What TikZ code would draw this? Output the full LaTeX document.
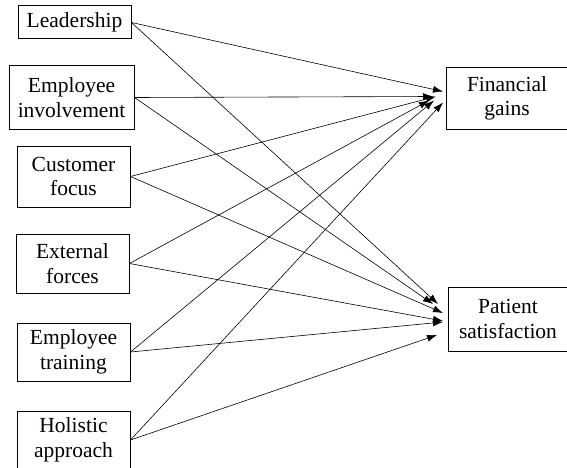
\documentclass[tikz,border=0pt]{standalone}
\usepackage{fontspec}
\setmainfont{Liberation Serif}
\usetikzlibrary{arrows.meta}
\begin{document}
\begin{tikzpicture}[x=1pt,y=-1pt,
  box/.style={draw,line width=1pt,align=center,inner sep=0pt,font=\fontsize{21.5}{24.5}\selectfont},
  link/.style={line width=0.6pt,-{Latex[length=10pt,width=7pt]}}]
\useasboundingbox (0,0) rectangle (567,468);
\node[box,minimum width=113pt,minimum height=33pt] (lead) at (74.5,22.5) {Leadership};
\node[box,minimum width=125pt,minimum height=63pt] (inv) at (71.5,97.5) {Employee\\involvement};
\node[box,minimum width=113pt,minimum height=61pt] (cust) at (73.5,176.5) {Customer\\focus};
\node[box,minimum width=113pt,minimum height=59pt] (ext) at (72.5,263.5) {External\\forces};
\node[box,minimum width=113pt,minimum height=58pt] (train) at (73.5,352) {Employee\\training};
\node[box,minimum width=113pt,minimum height=58pt] (hol) at (73.5,440) {Holistic\\approach};
\node[box,minimum width=124pt,minimum height=61pt,anchor=west] (fin) at (446,98.5) {\hspace*{-3pt}Financial\\\hspace*{-3pt}gains};
\node[box,minimum width=122pt,minimum height=64pt,anchor=west] (pat) at (448,319) {\hspace*{-3pt}Patient\\\hspace*{-3pt}satisfaction};
% to Financial gains
\draw[link] (lead.east) -- ([shift={(-3,-7)}]fin.west);
\draw[link] (inv.east) -- ([shift={(-13,-2)}]fin.west);
\draw[link] (cust.east) -- ([shift={(-10,-2)}]fin.west);
\draw[link] (ext.east) -- ([shift={(-17,2)}]fin.west);
\draw[link] (train.east) -- ([shift={(-12,2)}]fin.west);
\draw[link] (hol.east) -- ([shift={(-3,4)}]fin.west);
% to Patient satisfaction
\draw[link] (lead.east) -- ([shift={(-10,-15)}]pat.west);
\draw[link] (inv.east) -- ([shift={(-15,-15)}]pat.west);
\draw[link] (cust.east) -- ([shift={(-5,-6)}]pat.west);
\draw[link] (ext.east) -- ([shift={(-5,2)}]pat.west);
\draw[link] (train.east) -- ([shift={(-5,3)}]pat.west);
\draw[link] (hol.east) -- ([shift={(-11,16)}]pat.west);
\end{tikzpicture}
\end{document}
